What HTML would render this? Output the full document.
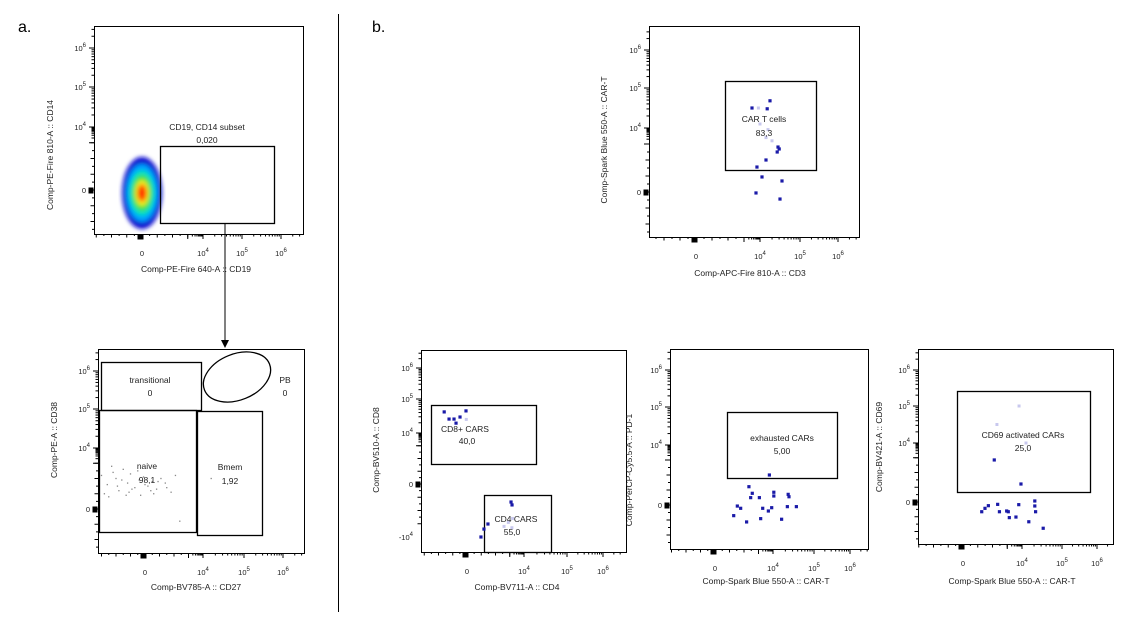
<!DOCTYPE html>
<html><head><meta charset="utf-8"><style>
html,body{margin:0;padding:0;background:#fff;}
svg{display:block;font-family:"Liberation Sans",Arial,sans-serif;}
</style></head><body>
<svg id="fig" width="1143" height="632" viewBox="0 0 1143 632">
<defs>
<filter id="blur1"><feGaussianBlur stdDeviation="2"/></filter>
</defs>
<text x="18" y="32" font-size="16">a.</text>
<text x="372" y="32" font-size="16">b.</text>
<line x1="338.5" y1="14" x2="338.5" y2="612" stroke="#000" stroke-width="1"/>
<line x1="225" y1="223" x2="225" y2="342" stroke="#000" stroke-width="1"/>
<polygon points="221,340 229,340 225,348" fill="#000"/>
<g id="plots"></g>
</svg>
<script>
// ---- data (transformed units: 0 = zero, 4/5/6 = 10^4/10^5/10^6) ----
const a2X = [-3.0,-2.6,-2.3,-2.0,-1.8,-1.5,-1.2,-1.0,-0.7,-0.4,-0.1,0.2,0.5,0.8,1.1,1.4,1.8,2.1,-2.8,-2.2,-1.6,-1.3,-0.9,-0.5,0.0,0.4,0.9,1.5,-2.5,-1.9,-1.1,-0.3,0.6,2.4,4.2];
const a2Y = [2.2,1.6,2.8,2.0,1.2,2.6,1.7,2.3,1.4,1.9,2.1,1.5,1.8,1.3,2.0,1.7,1.1,2.2,1.0,2.4,1.9,0.9,1.3,2.5,1.6,1.2,1.8,1.4,0.8,1.5,1.1,0.9,1.0,-0.8,2.0];
const b1X = [3.5,4.25,4.18,4.45,4.43,4.48,4.15,3.81,4.05,4.55,3.75,4.5];
const b1Y = [4.5,4.68,4.48,2.81,2.5,2.69,2.0,1.56,0.94,0.69,-0.06,-0.44];
const b1FaintX = [3.9,4.0,4.2,4.3,4.15];
const b1FaintY = [4.5,4.1,3.9,3.2,3.4];
const b2X = [-1.6,-1.26,-0.91,-0.77,-0.49,-0.07,0.98,1.19,1.47,3.09,3.16];
const b2Y = [4.62,4.41,4.41,4.29,4.47,4.65,-4.0,-3.4,-3.02,-1.36,-1.58];
const b2FaintX = [-0.05,3.2,2.6,2.9,3.15];
const b2FaintY = [4.4,-2.6,-3.2,-2.9,-3.3];
const b3X = [3.75,2.34,2.57,2.46,3.06,4.02,4.02,4.37,4.39,1.54,1.77,3.29,3.91,3.68,4.35,4.57,1.29,3.15,2.18,4.21];
const b3Y = [2.0,1.22,0.78,0.49,0.49,0.85,0.6,0.71,0.55,-0.07,-0.22,-0.22,-0.18,-0.4,-0.11,-0.11,-0.71,-0.91,-1.13,-0.95];
const b4X = [2.12,3.93,2.35,1.72,1.49,1.27,2.47,2.96,3.07,3.78,3.14,3.59,4.32,4.32,4.34,4.17,4.53];
const b4Y = [2.85,1.22,-0.16,-0.25,-0.43,-0.66,-0.66,-0.61,-0.66,-0.18,-1.06,-1.02,0.07,-0.27,-0.66,-1.34,-1.78];
const b4FaintX = [2.3,4.1,3.8];
const b4FaintY = [4.5,4.0,5.0];
const tickVals = [0,4,5,6];
const tickLabels = ["0","10","10","10"];
const tickExps = ["","4","5","6"];

const NS = "http://www.w3.org/2000/svg";
const root = document.getElementById('plots');
function mk(tag, attrs, parent){
  const e = document.createElementNS(NS, tag);
  for (const k in attrs) e.setAttribute(k, attrs[k]);
  (parent||root).appendChild(e);
  return e;
}
function scale(p0, p4, p5, p6){
  return function(v){
    if (v <= 4) return p0 + (p4 - p0) * v / 4;
    if (v <= 5) return p4 + (p5 - p4) * (v - 4);
    return p5 + (p6 - p5) * (v - 5);
  };
}
function plot(c){
  const g = mk('g', {});
  
  
  const fr = mk('rect', {x:c.x0+0.5, y:c.y0+0.5, width:c.x1-c.x0, height:c.y1-c.y0, fill:'none', stroke:'#000', 'stroke-width':1}, g);
  
  
  const sx = c.sx, sy = c.sy;
  // minor ticks
  const tg = mk('g', {stroke:'#000','stroke-width':1}, g);
  
  
  for (let d = 3; d <= 6; d++){
    for (let m = 1; m < 10; m++){
      const v = d + Math.log10(m);
      if (v > 6.5) continue;
      const len = m === 1 ? 5 : 2.5;
      const px = sx(v); if (px > c.x0 && px < c.x1) mk('line', {x1:px, y1:c.y1, x2:px, y2:c.y1+len}, tg);
      const py = sy(v); if (py > c.y0 && py < c.y1) mk('line', {x1:c.x0, y1:py, x2:c.x0-len, y2:py}, tg);
    }
  }
  for (let v = -3; v <= 3; v += 0.5){
    const px = sx(v); if (px > c.x0 && px < c.x1) mk('line', {x1:px, y1:c.y1, x2:px, y2:c.y1+(v%1===0?3.5:2)}, tg);
    const py = sy(v); if (py > c.y0 && py < c.y1) mk('line', {x1:c.x0, y1:py, x2:c.x0-(v%1===0?3.5:2), y2:py}, tg);
  }
  mk('rect', {x:sx(0)-4, y:c.y1+1, width:5, height:4, fill:'#000'}, tg);
  mk('rect', {x:c.x0-5, y:sy(0)-2, width:4, height:5, fill:'#000'}, tg);
  // tick labels
  tickVals.forEach((v,i)=>{
    const tx = mk('text', {x:sx(v)+(i?0:0), y:c.y1+22, 'font-size':7.5, 'text-anchor':'middle', fill:'#222'}, g);
    
    
    tx.textContent = tickLabels[i];
    if (tickExps[i]) { const s = mk('tspan', {dy:-4, 'font-size':6}, tx); s.textContent = tickExps[i]; }
    const ty = mk('text', {x:c.x0-8, y:sy(v)+3, 'font-size':7.5, 'text-anchor':'end', fill:'#222'}, g);
    
    
    ty.textContent = tickLabels[i];
    if (tickExps[i]) { const s = mk('tspan', {dy:-4, 'font-size':6}, ty); s.textContent = tickExps[i]; }
  });
  if (c.neg){
    const ty = mk('text', {x:c.x0-8, y:sy(-4)+3, 'font-size':7.5, 'text-anchor':'end', fill:'#222'}, g);
    
    
    ty.textContent = '-10';
    const s = mk('tspan', {dy:-4, 'font-size':6}, ty); s.textContent = '4';
  }
  const xl = mk('text', {x:c.xl[0], y:c.xl[1], 'font-size':8.5, 'text-anchor':'middle', fill:'#222'}, g);
  
  
  xl.textContent = c.xt;
  const yl = mk('text', {x:0, y:0, 'font-size':8.5, 'text-anchor':'middle', fill:'#222', transform:`translate(${c.yl[0]},${c.yl[1]}) rotate(-90)`}, g);
  
  
  yl.textContent = c.yt;
  return g;
}
function gateRect(g, x, y, w, h, name){
  const r = mk('rect', {x:x+0.5, y:y+0.5, width:w, height:h, fill:'none', stroke:'#000', 'stroke-width':1.3}, g);
  
  
}
function label(g, x, y, t, name){
  const e = mk('text', {x:x, y:y, 'font-size':8.5, 'text-anchor':'middle', fill:'#222'}, g);
  
  
  e.textContent = t;
}
function pts(g, xs, ys, sx, sy, color, size, name){
  xs.forEach((v,i)=>{
    const r = mk('rect', {x:sx(v)-size/2, y:sy(ys[i])-size/2, width:size, height:size, fill:color}, g);
    
    
  });
}

// ---- A1 ----
const a1sx = scale(142,203,242,281), a1sy = scale(190,127,87,48);
const gA1 = plot({name:'plot-cd19-cd14', x0:94, y0:26, x1:303, y1:234, sx:a1sx, sy:a1sy, xl:[196,272], xt:'Comp-PE-Fire 640-A :: CD19', yl:[53,155], yt:'Comp-PE-Fire 810-A :: CD14'});
const dens = mk('g', {filter:'url(#blur1)'}, gA1);


[['#1010d0',20,36],['#00a0ff',16,29],['#00e0c0',13,23],['#40e040',10,18],['#f0f020',7,13],['#ff8000',5,9],['#ff2000',3,6]].forEach(l=>{
  mk('ellipse', {cx:a1sx(0), cy:a1sy(0)+3, rx:l[1], ry:l[2], fill:l[0]}, dens);
});
gateRect(gA1, 160, 146, 114, 77, 'gate-cd19-cd14-subset');
label(gA1, 207, 130, 'CD19, CD14 subset', 'gate-label');
label(gA1, 207, 143, '0,020', 'gate-percent');

// ---- A2 ----
const a2sx = scale(145,203,244,283), a2sy = scale(509,448,409,371);
const gA2 = plot({name:'plot-cd27-cd38', x0:98, y0:349, x1:304, y1:553, sx:a2sx, sy:a2sy, xl:[196,590], xt:'Comp-BV785-A :: CD27', yl:[57,440], yt:'Comp-PE-A :: CD38'});
pts(gA2, a2X, a2Y, a2sx, a2sy, '#888', 1.3, 'event-dot');
gateRect(gA2, 101, 362, 100, 48, 'gate-transitional');
gateRect(gA2, 99, 410, 97, 122, 'gate-naive');
gateRect(gA2, 197, 411, 65, 124, 'gate-bmem');
const ell = mk('ellipse', {cx:237, cy:377, rx:35, ry:23, fill:'none', stroke:'#000', 'stroke-width':1.3, transform:'rotate(-22 237 377)'}, gA2);


label(gA2, 150, 383, 'transitional', 'gate-label'); label(gA2, 150, 396, '0', 'gate-percent');
label(gA2, 285, 383, 'PB', 'gate-label'); label(gA2, 285, 396, '0', 'gate-percent');
label(gA2, 147, 469, 'naive', 'gate-label'); label(gA2, 147, 483, '98,1', 'gate-percent');
label(gA2, 230, 470, 'Bmem', 'gate-label'); label(gA2, 230, 484, '1,92', 'gate-percent');

// ---- B1 ----
const b1sx = scale(696,760,800,838), b1sy = scale(192,128,88,50);
const gB1 = plot({name:'plot-cd3-car', x0:649, y0:26, x1:859, y1:237, sx:b1sx, sy:b1sy, xl:[750,276], xt:'Comp-APC-Fire 810-A :: CD3', yl:[607,140], yt:'Comp-Spark Blue 550-A :: CAR-T'});
pts(gB1, b1FaintX, b1FaintY, b1sx, b1sy, '#c8c8ee', 3, 'event-faint');
gateRect(gB1, 725, 81, 91, 89, 'gate-car-t-cells');
label(gB1, 764, 122, 'CAR T cells', 'gate-label'); label(gB1, 764, 136, '83,3', 'gate-percent');
pts(gB1, b1X, b1Y, b1sx, b1sy, '#1a1aa8', 3.2, 'event-point');

// ---- B2 ----
const b2sxBase = scale(467,524,567,603);
const b2sx = v => v < 0 ? 467 + 14.25*v : b2sxBase(v);
const b2syBase = scale(484,433,399,368);
const b2sy = v => v < 0 ? 484 - 13.25*v : b2syBase(v);
const gB2 = plot({name:'plot-cd4-cd8', x0:421, y0:350, x1:626, y1:552, sx:b2sx, sy:b2sy, xl:[517,590], xt:'Comp-BV711-A :: CD4', yl:[379,450], yt:'Comp-BV510-A :: CD8', neg:true});
pts(gB2, b2FaintX, b2FaintY, b2sx, b2sy, '#c8c8ee', 3, 'event-faint');
gateRect(gB2, 431, 405, 105, 59, 'gate-cd8-cars');
gateRect(gB2, 484, 495, 67, 57, 'gate-cd4-cars');
label(gB2, 465, 432, 'CD8+ CARS', 'gate-label'); label(gB2, 467, 444, '40,0', 'gate-percent');
label(gB2, 516, 522, 'CD4 CARS', 'gate-label'); label(gB2, 512, 535, '55,0', 'gate-percent');
pts(gB2, b2X, b2Y, b2sx, b2sy, '#1a1aa8', 3.2, 'event-point');

// ---- B3 ----
const b3sxB = scale(715,773,814,850), b3syB = scale(505,445,407,370);
const b3sx = v => v < 0 ? 715 + 14.5*v : b3sxB(v);
const b3sy = v => v < 0 ? 505 - 15*v : b3syB(v);
const gB3 = plot({name:'plot-car-pd1', x0:670, y0:349, x1:868, y1:549, sx:b3sx, sy:b3sy, xl:[766,584], xt:'Comp-Spark Blue 550-A :: CAR-T', yl:[632,470], yt:'Comp-PerCP-Cy5.5-A :: PD-1'});
gateRect(gB3, 727, 412, 110, 66, 'gate-exhausted-cars');
label(gB3, 782, 441, 'exhausted CARs', 'gate-label'); label(gB3, 782, 454, '5,00', 'gate-percent');
pts(gB3, b3X, b3Y, b3sx, b3sy, '#1a1aa8', 3.2, 'event-point');

// ---- B4 ----
const b4sxB = scale(963,1022,1062,1097), b4syB = scale(502,443,406,370);
const b4sx = v => v < 0 ? 963 + 14.75*v : b4sxB(v);
const b4sy = v => v < 0 ? 502 - 14.75*v : b4syB(v);
const gB4 = plot({name:'plot-car-cd69', x0:918, y0:349, x1:1113, y1:544, sx:b4sx, sy:b4sy, xl:[1012,584], xt:'Comp-Spark Blue 550-A :: CAR-T', yl:[882,447], yt:'Comp-BV421-A :: CD69'});
pts(gB4, b4FaintX, b4FaintY, b4sx, b4sy, '#c8c8ee', 3, 'event-faint');
gateRect(gB4, 957, 391, 133, 101, 'gate-cd69-activated-cars');
label(gB4, 1023, 438, 'CD69 activated CARs', 'gate-label'); label(gB4, 1023, 451, '25,0', 'gate-percent');
pts(gB4, b4X, b4Y, b4sx, b4sy, '#1a1aa8', 3.2, 'event-point');
</script>
</body></html>
